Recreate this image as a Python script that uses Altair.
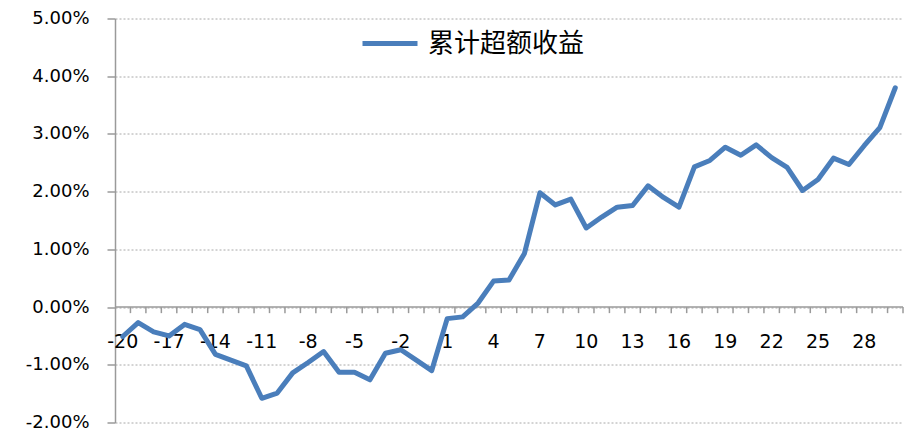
import altair as alt
import pandas as pd

days = list(range(-20, 31))
excess_pct = [
    -0.51, -0.27, -0.43, -0.50, -0.30, -0.39, -0.82, -0.92, -1.02, -1.58,
    -1.49, -1.14, -0.96, -0.77, -1.13, -1.13, -1.26, -0.80, -0.74, -0.92,
    -1.10, -0.20, -0.17, 0.07, 0.45, 0.47, 0.93, 1.98, 1.77, 1.87,
    1.37, 1.56, 1.73, 1.76, 2.10, 1.90, 1.73, 2.43, 2.54, 2.77,
    2.63, 2.81, 2.59, 2.42, 2.02, 2.21, 2.58, 2.47, 2.80, 3.11,
    3.80,
]
series_name = "累计超额收益"
x_label_values = list(range(-20, 30, 3))
y_tick_values = [-0.02, -0.01, 0.0, 0.01, 0.02, 0.03, 0.04, 0.05]

df = pd.DataFrame({
    "day": days,
    "value": [v / 100 for v in excess_pct],
    "series": [series_name] * len(days),
})
ticks_df = pd.DataFrame({"pos": [d + 0.5 for d in range(-20, 31)], "y0": 0.0, "y1": -0.00105})
labels_df = pd.DataFrame({"pos": x_label_values, "txt": [str(v) for v in x_label_values], "y": -0.0060})
zero_df = pd.DataFrame({"a": [-20.5], "b": [30.5], "y": [0.0]})

xs = alt.Scale(domain=[-20.5, 30.5], nice=False, zero=False)
ys = alt.Scale(domain=[-0.02, 0.05], nice=False, zero=False)

gray = "#9a9a9a"

base_axis = alt.Axis(
    values=y_tick_values,
    labelExpr="replace(format(datum.value, '.2%'), '\u2212', '-')",
    labelFont="DejaVu Sans", labelFontSize=18, labelColor="#000000",
    labelPadding=18, tickSize=8, tickColor=gray, tickWidth=1.5,
    domainColor=gray, domainWidth=1.5,
    grid=True, gridColor="#a8a8a8", gridDash=[2, 2], gridWidth=1,
    title=None,
)

line = alt.Chart(df).mark_line(strokeWidth=5, strokeJoin="round", strokeCap="round").encode(
    x=alt.X("day:Q", scale=xs, axis=None),
    y=alt.Y("value:Q", scale=ys, axis=base_axis),
    color=alt.Color("series:N", scale=alt.Scale(range=["#4A7EBB"]), legend=alt.Legend(
        orient="none", legendX=245, legendY=-5, title=None,
        symbolType="stroke", symbolSize=3025, symbolStrokeWidth=5,
        labelFontSize=26, labelFont="Noto Sans CJK SC", labelColor="#000000",
        labelOffset=8, labelLimit=400,
    )),
)

zero_line = alt.Chart(zero_df).mark_rule(color=gray, strokeWidth=1.5).encode(
    x=alt.X("a:Q", scale=xs, axis=None), x2="b:Q",
    y=alt.Y("y:Q", scale=ys),
)

tick_marks = alt.Chart(ticks_df).mark_rule(color=gray, strokeWidth=1.5).encode(
    x=alt.X("pos:Q", scale=xs, axis=None),
    y=alt.Y("y0:Q", scale=ys), y2="y1:Q",
)

x_labels = alt.Chart(labels_df).mark_text(
    font="DejaVu Sans", fontSize=19, color="#000000", baseline="middle", align="center"
).encode(
    x=alt.X("pos:Q", scale=xs, axis=None),
    y=alt.Y("y:Q", scale=ys),
    text="txt:N",
)

chart = alt.layer(zero_line, tick_marks, x_labels, line).properties(
    width=788, height=404,
    autosize=alt.AutoSizeParams(type="none"),
    padding={"left": 107, "top": 10.5, "right": 7, "bottom": 10.5},
).configure_view(stroke=None)

chart.save("out.html", embed_options={"renderer": "svg", "actions": False})
